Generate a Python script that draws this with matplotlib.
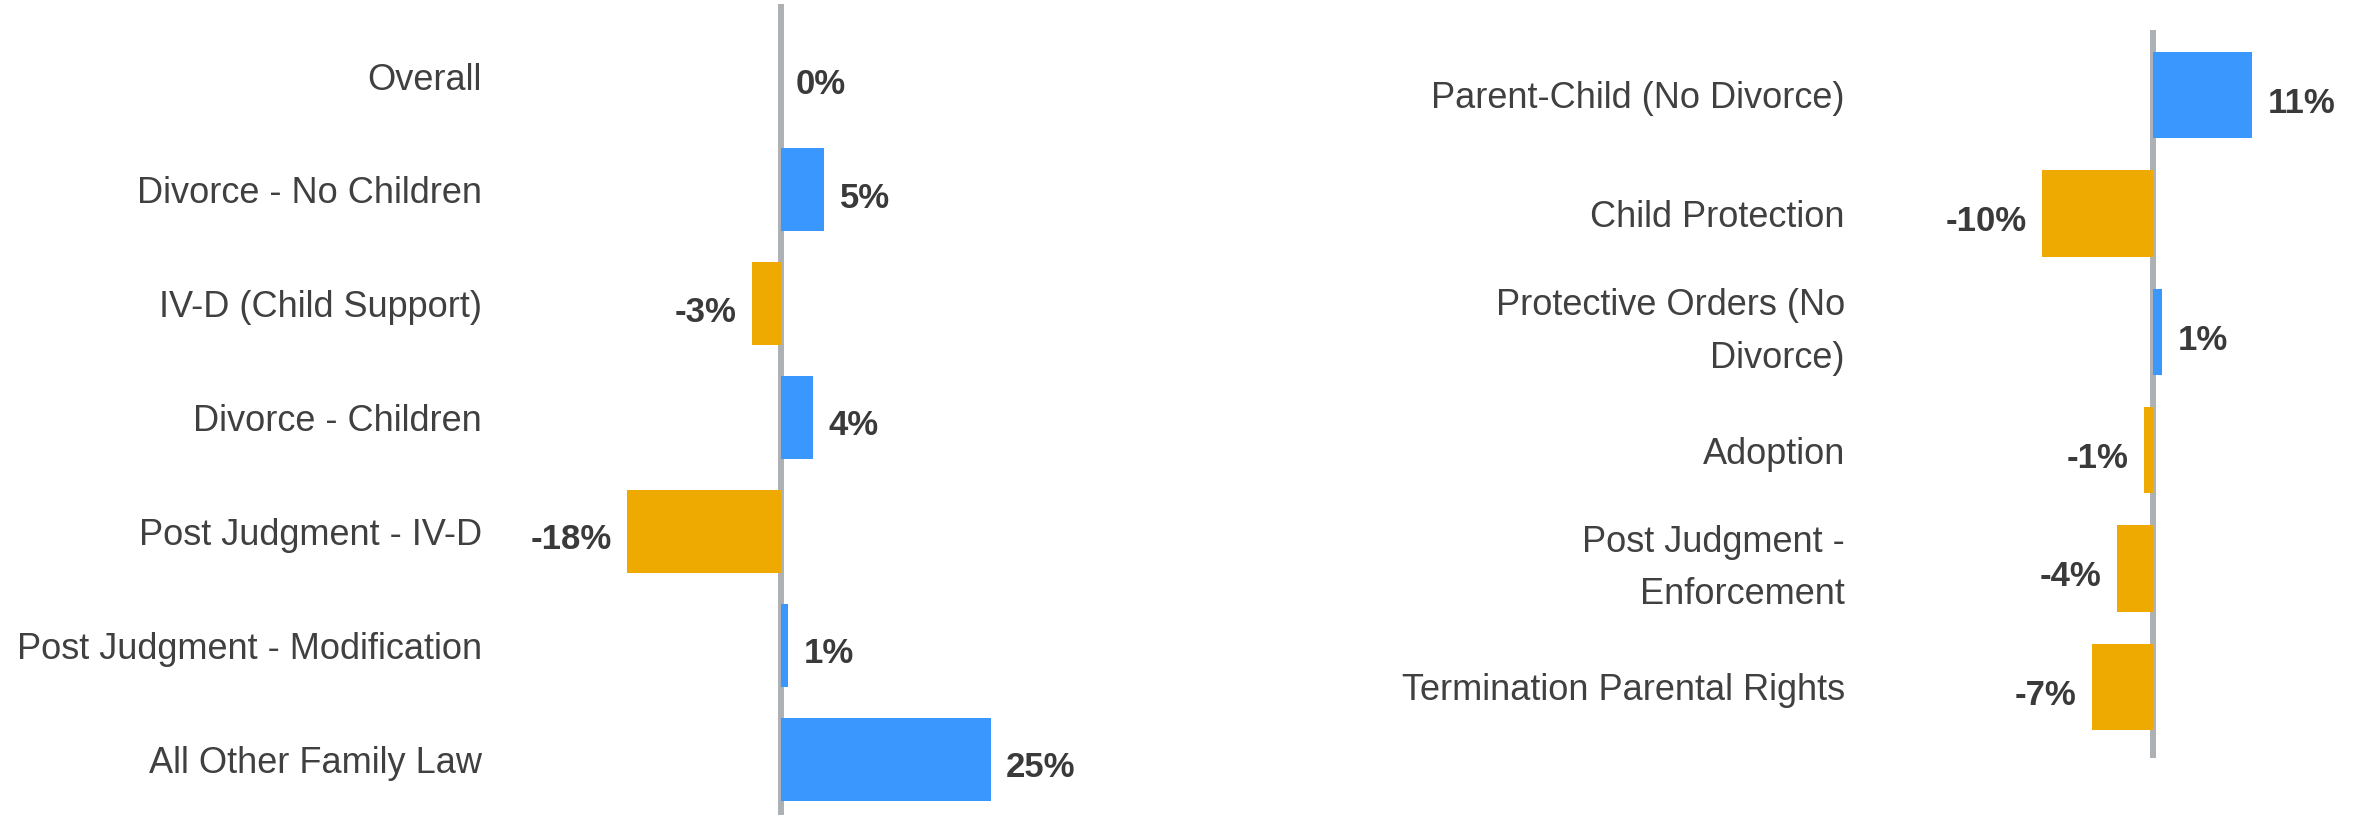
import matplotlib
matplotlib.use("Agg")
import matplotlib.pyplot as plt
from matplotlib import font_manager

# left panel
left_cats = ['Overall', 'Divorce - No Children', 'IV-D (Child Support)',
             'Divorce - Children', 'Post Judgment - IV-D',
             'Post Judgment - Modification', 'All Other Family Law']
left_vals = [0.0, 5.2, -3.4, 3.9, -18.2, 0.9, 24.9]
left_labels = ['0%', '5%', '-3%', '4%', '-18%', '1%', '25%']

# right panel (the Child Protection bar is drawn longer than its -10% label)
right_cats = ['Parent-Child (No Divorce)', 'Child Protection',
              'Protective Orders (No\nDivorce)', 'Adoption',
              'Post Judgment -\nEnforcement', 'Termination Parental Rights']
right_vals = [11.0, -12.3, 1.0, -1.0, -4.0, -6.8]
right_labels = ['11%', '-10%', '1%', '-1%', '-4%', '-7%']

BLUE = '#3A97FE'
ORANGE = '#EEAA00'
W, H = 2353, 815

# pick a narrow sans if there is one
try:
    font_manager.findfont(font_manager.FontProperties(family='Liberation Sans Narrow'),
                          fallback_to_default=False)
    FAM = ['Liberation Sans Narrow', 'DejaVu Sans']
    cat_size, val_size = 31, 30
except Exception:
    FAM = ['Liberation Sans', 'DejaVu Sans']
    cat_size, val_size = 26, 25
plt.rcParams['font.family'] = FAM

fig = plt.figure(figsize=(W / 100, H / 100), dpi=100)


def panel(cats, vals, labels, x0, x1, zero, scale, y0, y1, row_top, row_bot):
    # x0..x1, y0..y1 in pixels from top-left
    ax = fig.add_axes([x0 / W, 1 - y1 / H, (x1 - x0) / W, (y1 - y0) / H])
    ax.set_xlim((x0 - zero) / scale, (x1 - zero) / scale)
    n = len(cats)
    ax.set_ylim(n - 1 + row_bot, -row_top)
    ax.axvline(0, color='#AEB1B4', lw=4.3, zorder=1)
    cols = [BLUE if v >= 0 else ORANGE for v in vals]
    ax.barh(range(n), vals, height=0.73, color=cols, zorder=2)
    for i, (v, lab) in enumerate(zip(vals, labels)):
        off = 11 if v >= 0 else -11
        ax.annotate(lab, (v, i), xytext=(off, -6), textcoords='offset points',
                    ha='left' if v >= 0 else 'right', va='center',
                    fontsize=val_size, fontweight='bold', color='#3A3A3A')
    ax.set_yticks(range(n))
    ticks = ax.set_yticklabels(cats, fontsize=cat_size, color='#404040', linespacing=1.65)
    for t in ticks:
        if '\n' in t.get_text():
            t.set_va('center')
    ax.tick_params(axis='y', length=0, pad=13)
    ax.set_xticks([])
    for s in ax.spines.values():
        s.set_visible(False)
    ax.patch.set_alpha(0)
    return ax


panel(left_cats, left_vals, left_labels, 500, 1150, 780.5, 8.45, 4, 815, 0.633, 0.49)
panel(right_cats, right_vals, right_labels, 1863, 2353, 2153, 9.0, 30, 758, 0.549, 0.6)

fig.savefig('out.png', dpi=100)
